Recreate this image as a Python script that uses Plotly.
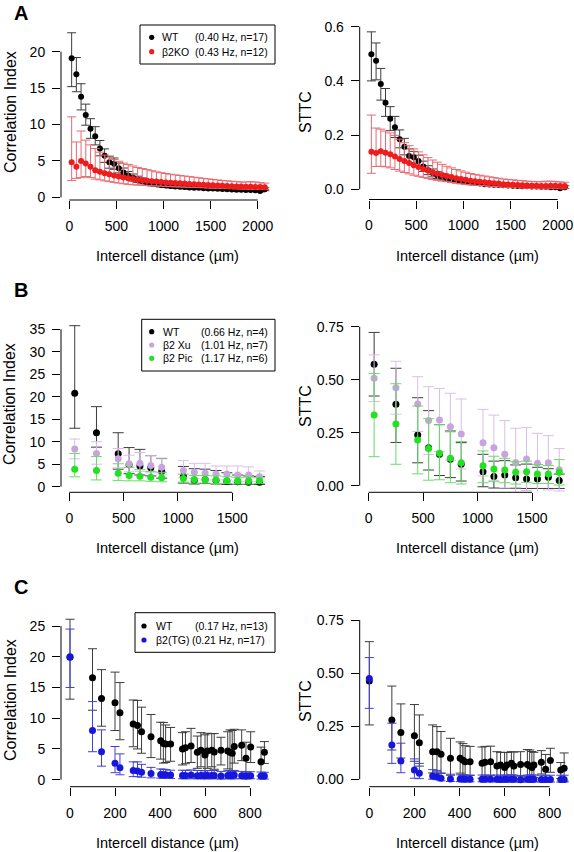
import plotly.graph_objects as go

W, H = 574, 852
FONT = "Liberation Sans, Arial, Helvetica, sans-serif"

# ---------------- DATA ----------------
# Panel A (bins of intercell distance, µm)
A_x = [25, 75, 125, 175, 225, 275, 325, 375, 425, 475, 525, 575, 625, 675, 725, 775, 825, 875, 925, 975,
       1025, 1075, 1125, 1175, 1225, 1275, 1325, 1375, 1425, 1475, 1525, 1575, 1625, 1675, 1725, 1775, 1825, 1875, 1925, 1975,
       2025, 2075]
A_ci_wt = [19.1, 16.9, 13.8, 11.3, 9.4, 8.4, 6.7, 5.7, 4.8, 4.6, 4.0, 3.4, 3.0, 2.7, 2.45, 2.25, 2.05, 1.9, 1.8, 1.7,
           1.62, 1.55, 1.5, 1.45, 1.4, 1.36, 1.32, 1.3, 1.26, 1.22, 1.2, 1.16, 1.13, 1.1, 1.08, 1.05, 1.03, 1.0, 1.0, 0.98,
           0.88, 1.1]
A_ci_wt_up = [3.5, 2.3, 1.8, 1.5, 1.4, 1.3, 1.1, 0.95, 0.85, 0.8, 0.7, 0.62, 0.55, 0.5, 0.45, 0.42, 0.38, 0.35, 0.33, 0.3,
              0.28, 0.27, 0.26, 0.25, 0.24, 0.23, 0.22, 0.22, 0.21, 0.2, 0.2, 0.19, 0.19, 0.18, 0.18, 0.18, 0.17, 0.17, 0.17, 0.17,
              0.16, 0.2]
A_ci_wt_lo = [3.9, 2.4, 1.8, 1.4, 1.3, 1.2, 1.0, 0.9, 0.8, 0.75, 0.65, 0.58, 0.52, 0.47, 0.43, 0.4, 0.36, 0.33, 0.31, 0.29,
              0.27, 0.26, 0.25, 0.24, 0.23, 0.22, 0.21, 0.21, 0.2, 0.19, 0.19, 0.18, 0.18, 0.17, 0.17, 0.17, 0.16, 0.16, 0.16, 0.16,
              0.15, 0.19]
A_ci_ko = [4.8, 4.2, 5.0, 4.65, 4.2, 3.7, 3.5, 3.3, 3.15, 3.0, 2.85, 2.72, 2.6, 2.5, 2.42, 2.35, 2.28, 2.22, 2.16, 2.1,
           2.05, 2.0, 1.96, 1.92, 1.88, 1.84, 1.8, 1.76, 1.72, 1.68, 1.65, 1.62, 1.59, 1.56, 1.53, 1.5, 1.48, 1.46, 1.44, 1.42,
           1.4, 1.38]
A_ci_ko_up = [6.25, 3.4, 4.1, 3.2, 3.0, 3.0, 2.7, 2.5, 2.35, 2.2, 2.1, 1.98, 1.9, 1.8, 1.68, 1.6, 1.52, 1.43, 1.34, 1.28,
              1.22, 1.17, 1.12, 1.08, 1.04, 1.0, 0.96, 0.92, 0.88, 0.84, 0.8, 0.76, 0.73, 0.7, 0.67, 0.65, 0.62, 0.64, 0.71, 0.68,
              0.6, 0.57]
A_ci_ko_lo = [2.5, 1.6, 2.3, 1.8, 1.5, 1.2, 1.1, 1.05, 1.0, 0.95, 0.9, 0.86, 0.82, 0.78, 0.74, 0.7, 0.67, 0.64, 0.61, 0.58,
              0.56, 0.54, 0.52, 0.5, 0.48, 0.46, 0.44, 0.42, 0.41, 0.4, 0.39, 0.38, 0.37, 0.36, 0.35, 0.34, 0.33, 0.34, 0.36, 0.35,
              0.33, 0.32]
A_st_wt = [0.498, 0.474, 0.389, 0.319, 0.26, 0.229, 0.185, 0.157, 0.123, 0.118, 0.104, 0.084, 0.07, 0.06, 0.052, 0.046, 0.041, 0.037, 0.033, 0.03,
           0.027, 0.025, 0.023, 0.021, 0.019, 0.018, 0.017, 0.016, 0.015, 0.014, 0.013, 0.012, 0.011, 0.011, 0.01, 0.01, 0.009, 0.009, 0.008, 0.008,
           0.004, 0.008]
A_st_wt_up = [0.083, 0.066, 0.057, 0.053, 0.045, 0.04, 0.034, 0.031, 0.026, 0.022, 0.022, 0.02, 0.017, 0.015, 0.013, 0.012, 0.011, 0.01, 0.009, 0.008,
              0.0075, 0.007, 0.0065, 0.006, 0.006, 0.0055, 0.005, 0.005, 0.005, 0.0045, 0.0045, 0.004, 0.004, 0.004, 0.004, 0.004, 0.004, 0.004, 0.004, 0.004,
              0.004, 0.005]
A_st_wt_lo = [0.098, 0.07, 0.06, 0.05, 0.043, 0.038, 0.032, 0.03, 0.025, 0.022, 0.02, 0.018, 0.016, 0.014, 0.012, 0.011, 0.01, 0.009, 0.008, 0.0075,
              0.007, 0.0065, 0.006, 0.0055, 0.005, 0.005, 0.005, 0.0045, 0.0045, 0.004, 0.004, 0.004, 0.004, 0.004, 0.004, 0.004, 0.004, 0.004, 0.004, 0.004,
              0.004, 0.005]
A_st_ko = [0.139, 0.134, 0.14, 0.135, 0.129, 0.121, 0.112, 0.104, 0.097, 0.089, 0.082, 0.075, 0.069, 0.063, 0.058, 0.053, 0.049, 0.045, 0.041, 0.038,
           0.035, 0.032, 0.03, 0.028, 0.026, 0.024, 0.022, 0.021, 0.019, 0.018, 0.017, 0.016, 0.015, 0.014, 0.013, 0.013, 0.012, 0.012, 0.013, 0.013,
           0.012, 0.012]
A_st_ko_up = [0.135, 0.092, 0.082, 0.08, 0.079, 0.078, 0.073, 0.068, 0.064, 0.06, 0.056, 0.052, 0.048, 0.045, 0.042, 0.039, 0.036, 0.034, 0.032, 0.03,
              0.028, 0.026, 0.025, 0.024, 0.023, 0.022, 0.021, 0.02, 0.019, 0.018, 0.018, 0.017, 0.017, 0.016, 0.016, 0.015, 0.016, 0.018, 0.017, 0.016,
              0.015, 0.014]
A_st_ko_lo = [0.08, 0.05, 0.055, 0.052, 0.05, 0.048, 0.045, 0.042, 0.04, 0.037, 0.034, 0.031, 0.029, 0.027, 0.025, 0.023, 0.021, 0.02, 0.019, 0.018,
              0.017, 0.016, 0.015, 0.014, 0.013, 0.013, 0.012, 0.012, 0.011, 0.011, 0.01, 0.01, 0.01, 0.01, 0.01, 0.01, 0.01, 0.01, 0.01, 0.01,
              0.01, 0.01]

# Panel B
B_x = [50, 250, 450, 550, 650, 750, 850, 1050, 1150, 1250, 1350, 1450, 1550, 1650, 1750]
B_ci_wt = [20.8, 12.0, 7.3, 4.9, 4.6, 4.2, 3.4, 2.3, 1.4, 1.6, 1.4, 1.2, 1.1, 1.0, 1.0]
B_ci_wt_up = [15.0, 5.8, 4.7, 3.8, 3.7, 2.7, 2.9, 2.2, 2.6, 2.3, 2.2, 1.9, 1.5, 1.4, 1.3]
B_ci_wt_lo = [7.8, 3.2, 3.4, 2.0, 2.0, 1.8, 1.5, 1.5, 0.8, 0.9, 0.8, 0.7, 0.6, 0.5, 0.5]
B_ci_xu = [8.4, 7.4, 6.2, 5.1, 5.2, 4.7, 4.3, 3.6, 3.2, 3.0, 2.8, 2.8, 2.6, 2.6, 2.2]
B_ci_xu_up = [2.2, 2.6, 2.3, 1.9, 2.4, 2.2, 1.9, 2.2, 2.0, 2.2, 1.8, 1.8, 2.0, 1.8, 1.3]
B_ci_xu_lo = [2.2, 2.4, 2.0, 1.8, 1.8, 1.6, 1.5, 1.6, 1.4, 1.5, 1.3, 1.3, 1.4, 1.4, 1.0]
B_ci_pic = [3.9, 3.6, 3.0, 2.5, 2.3, 2.1, 2.0, 1.8, 1.6, 1.6, 1.5, 1.4, 1.3, 1.3, 1.3]
B_ci_pic_up = [3.5, 3.1, 2.1, 1.8, 1.5, 1.3, 1.2, 1.0, 0.9, 0.9, 0.9, 0.8, 0.8, 0.8, 0.7]
B_ci_pic_lo = [1.7, 2.1, 1.6, 1.2, 1.0, 0.9, 0.9, 0.8, 0.8, 0.8, 0.8, 0.7, 0.7, 0.7, 0.6]
B_st_wt = [0.573, 0.384, 0.239, 0.179, 0.148, 0.125, 0.101, 0.066, 0.043, 0.05, 0.038, 0.032, 0.032, 0.04, 0.025]
B_st_wt_up = [0.15, 0.17, 0.176, 0.175, 0.14, 0.133, 0.102, 0.082, 0.073, 0.068, 0.06, 0.07, 0.055, 0.04, 0.03]
B_st_wt_lo = [0.15, 0.18, 0.131, 0.105, 0.1, 0.087, 0.079, 0.071, 0.054, 0.063, 0.05, 0.045, 0.045, 0.053, 0.038]
B_st_xu = [0.507, 0.462, 0.385, 0.307, 0.31, 0.278, 0.244, 0.203, 0.179, 0.148, 0.11, 0.126, 0.106, 0.108, 0.075]
B_st_xu_up = [0.11, 0.125, 0.129, 0.16, 0.149, 0.158, 0.165, 0.157, 0.154, 0.159, 0.161, 0.149, 0.141, 0.128, 0.1]
B_st_xu_lo = [0.11, 0.125, 0.129, 0.16, 0.149, 0.158, 0.165, 0.157, 0.154, 0.159, 0.161, 0.149, 0.141, 0.128, 0.1]
B_st_pic = [0.333, 0.291, 0.216, 0.176, 0.153, 0.129, 0.108, 0.094, 0.079, 0.074, 0.063, 0.066, 0.055, 0.055, 0.063]
B_st_pic_up = [0.196, 0.19, 0.16, 0.14, 0.135, 0.125, 0.1, 0.07, 0.06, 0.055, 0.05, 0.05, 0.045, 0.04, 0.06]
B_st_pic_lo = [0.196, 0.19, 0.16, 0.15, 0.125, 0.115, 0.1, 0.08, 0.06, 0.06, 0.055, 0.05, 0.045, 0.045, 0.06]

# Panel C
C_x = [0, 100, 140, 200, 222, 281, 300, 318, 360, 403, 415, 425, 447, 500, 513, 538, 566, 582, 600, 610,
       630, 641, 671, 701, 711, 721, 730, 763, 782, 803, 849, 864]
C_ci_wt = [19.9, 16.6, 13.2, 12.5, 10.9, 9.06, 8.8, 7.8, 7.0, 6.35, 5.9, 5.8, 5.8, 5.0, 5.2, 5.5, 4.45, 4.8, 4.0, 4.65,
           4.8, 4.5, 4.8, 4.65, 4.45, 4.3, 5.4, 5.6, 3.5, 5.3, 2.9, 4.45]
C_ci_wt_up = [6.2, 4.7, 4.7, 5.0, 4.9, 3.9, 4.1, 4.0, 3.6, 3.0, 3.4, 3.1, 2.7, 2.65, 2.6, 2.85, 2.65, 2.85, 3.3, 2.9,
              2.7, 3.0, 2.1, 3.15, 3.65, 3.7, 2.8, 2.5, 2.6, 2.5, 2.4, 1.75]
C_ci_wt_lo = [6.8, 5.3, 4.5, 4.5, 4.4, 3.7, 3.8, 3.5, 3.4, 3.0, 3.2, 3.0, 2.8, 2.6, 2.6, 2.7, 2.6, 2.7, 2.9, 2.8,
              2.7, 2.8, 2.4, 2.9, 3.0, 3.0, 2.7, 2.5, 2.4, 2.5, 2.3, 1.8]
C_ci_tg = [20.0, 8.0, 4.55, 2.66, 1.95, 1.5, 1.4, 1.2, 1.0, 0.85, 0.8, 0.8, 0.75, 0.7, 0.7, 0.75, 0.65, 0.7, 0.65, 0.7,
           0.7, 0.7, 0.6, 0.7, 0.7, 0.7, 0.75, 0.65, 0.6, 0.65, 0.6, 0.6]
C_ci_tg_up = [4.5, 4.7, 3.55, 2.74, 2.25, 1.4, 1.5, 1.3, 1.0, 0.9, 0.9, 0.85, 0.8, 0.85, 0.8, 0.85, 0.85, 0.8, 0.8, 0.8,
              0.8, 0.8, 0.75, 0.75, 0.8, 0.7, 0.75, 0.7, 0.7, 0.65, 0.65, 0.6]
C_ci_tg_lo = [5.0, 3.45, 2.35, 1.52, 1.15, 1.0, 0.9, 0.8, 0.7, 0.6, 0.6, 0.6, 0.55, 0.55, 0.55, 0.6, 0.5, 0.55, 0.5, 0.55,
              0.55, 0.55, 0.5, 0.55, 0.55, 0.55, 0.6, 0.5, 0.5, 0.5, 0.5, 0.5]
C_st_wt = [0.463, 0.279, 0.22, 0.205, 0.172, 0.13, 0.13, 0.118, 0.099, 0.099, 0.09, 0.083, 0.083, 0.075, 0.08, 0.083, 0.063, 0.067, 0.056, 0.067,
           0.075, 0.063, 0.07, 0.07, 0.063, 0.056, 0.067, 0.08, 0.047, 0.088, 0.044, 0.052]
C_st_wt_up = [0.185, 0.16, 0.135, 0.147, 0.131, 0.126, 0.118, 0.107, 0.094, 0.077, 0.078, 0.075, 0.072, 0.077, 0.075, 0.073, 0.067, 0.06, 0.07, 0.06,
              0.055, 0.065, 0.06, 0.07, 0.075, 0.075, 0.06, 0.055, 0.07, 0.058, 0.035, 0.072]
C_st_wt_lo = [0.207, 0.141, 0.12, 0.12, 0.11, 0.1, 0.095, 0.09, 0.08, 0.07, 0.07, 0.068, 0.065, 0.07, 0.068, 0.066, 0.06, 0.058, 0.06, 0.058,
              0.055, 0.06, 0.058, 0.065, 0.065, 0.065, 0.058, 0.055, 0.06, 0.055, 0.04, 0.06]
C_st_tg = [0.475, 0.161, 0.086, 0.044, 0.028, 0.0155, 0.012, 0.005, 0.002, 0.001, 0.001, 0.0, 0.0, 0.0, 0.0, 0.0, 0.0, -0.001, 0.0, 0.0,
           0.0, 0.0, -0.002, 0.0, 0.0, 0.0, 0.0, -0.001, -0.001, -0.001, -0.001, -0.001]
C_st_tg_up = [0.098, 0.103, 0.084, 0.052, 0.047, 0.03, 0.03, 0.025, 0.022, 0.02, 0.02, 0.02, 0.02, 0.02, 0.02, 0.02, 0.02, 0.02, 0.02, 0.02,
              0.02, 0.02, 0.02, 0.02, 0.02, 0.02, 0.02, 0.02, 0.02, 0.02, 0.02, 0.02]
C_st_tg_lo = [0.141, 0.086, 0.055, 0.039, 0.025, 0.015, 0.014, 0.012, 0.012, 0.012, 0.012, 0.012, 0.012, 0.012, 0.012, 0.012, 0.012, 0.012, 0.012, 0.012,
              0.012, 0.012, 0.012, 0.012, 0.012, 0.012, 0.012, 0.012, 0.012, 0.012, 0.012, 0.012]

# tick labels
A_xticks = [0, 500, 1000, 1500, 2000]
B_xticks = [0, 500, 1000, 1500]
C_xticks = [0, 200, 400, 600, 800]
A_ci_ticks = [0, 5, 10, 15, 20]
A_st_ticks = [0.0, 0.2, 0.4, 0.6]
B_ci_ticks = [0, 5, 10, 15, 20, 25, 30, 35]
B_st_ticks = [0.0, 0.25, 0.5, 0.75]
C_ci_ticks = [0, 5, 10, 15, 20, 25]
C_st_ticks = [0.0, 0.25, 0.5, 0.75]

# legend texts
A_leg = [("WT", "(0.40 Hz, n=17)"), ("β2KO", "(0.43 Hz, n=12)")]
B_leg = [("WT", "(0.66 Hz, n=4)"), ("β2 Xu", "(1.01 Hz, n=7)"), ("β2 Pic", "(1.17 Hz, n=6)")]
C_leg = [("WT", "(0.17 Hz, n=13)"), ("β2(TG)", "(0.21 Hz, n=17)")]

# ---------------- STYLE ----------------
COL = {
    "wt": ("#000000", "#3c3c3c"),
    "ko": ("#ee1c1c", "#e86a72"),
    "xu": ("#c9a3dd", "#dcbde9"),
    "pic": ("#22e022", "#66dd66"),
    "tg": ("#1616dd", "#4040d8"),
}


def pxx(x):
    return x / W


def pxy(y):
    return 1 - y / H


# panel geometry in pixels: L, R, T, B (axis lines), x calibration, y calibration
panels = [
    dict(L=61, R=275, T=18, B=200, xc=(0, 69.3, 2000, 257.7), yc=(0, 197.3, 20, 51.7),
         xt=A_xticks, yt=A_ci_ticks, yfmt="{:g}"),
    dict(L=359.7, R=572, T=18, B=199.5, xc=(0, 369, 2000, 557.7), yc=(0, 189.3, 0.6, 26.7),
         xt=A_xticks, yt=A_st_ticks, yfmt="{:.1f}"),
    dict(L=61, R=275, T=300, B=492.3, xc=(0, 69.3, 1500, 232.3), yc=(0, 486.7, 35, 329.3),
         xt=B_xticks, yt=B_ci_ticks, yfmt="{:g}"),
    dict(L=359.7, R=572, T=300, B=492.3, xc=(0, 368.7, 1500, 532), yc=(0, 485.7, 0.75, 326.7),
         xt=B_xticks, yt=B_st_ticks, yfmt="{:.2f}"),
    dict(L=61, R=275, T=598, B=786.7, xc=(0, 70, 800, 250), yc=(0, 779.7, 25, 626),
         xt=C_xticks, yt=C_ci_ticks, yfmt="{:g}"),
    dict(L=359.7, R=572, T=598, B=786.7, xc=(0, 369.3, 800, 549.7), yc=(0, 779.3, 0.75, 620),
         xt=C_xticks, yt=C_st_ticks, yfmt="{:.2f}"),
]

fig = go.Figure()
layout = dict(width=W, height=H, margin=dict(l=0, r=0, t=0, b=0, pad=0, autoexpand=False),
              paper_bgcolor="white", plot_bgcolor="white", showlegend=False,
              font=dict(family=FONT, color="black"))
shapes = []
annotations = []

for i, p in enumerate(panels, start=1):
    sfx = "" if i == 1 else str(i)
    x0v, x0p, x1v, x1p = p["xc"]
    sx = (x1p - x0p) / (x1v - x0v)
    xr = [x0v + (p["L"] - x0p) / sx, x0v + (p["R"] - x0p) / sx]
    y0v, y0p, y1v, y1p = p["yc"]
    sy = (y0p - y1p) / (y1v - y0v)
    yr = [y0v + (y0p - p["B"]) / sy, y0v + (y0p - p["T"]) / sy]
    layout["xaxis" + sfx] = dict(domain=[pxx(p["L"]), pxx(p["R"])], range=xr, anchor="y" + sfx,
                                 showgrid=False, zeroline=False, showline=False,
                                 ticks="outside", ticklen=8, tickwidth=1, tickcolor="black",
                                 tickvals=p["xt"], ticktext=[str(v) for v in p["xt"]],
                                 tickfont=dict(size=14, family=FONT, color="black"),
                                 ticklabelstandoff=5, fixedrange=True)
    layout["yaxis" + sfx] = dict(domain=[pxy(p["B"]), pxy(p["T"])], range=yr, anchor="x" + sfx,
                                 showgrid=False, zeroline=False, showline=False,
                                 ticks="outside", ticklen=8, tickwidth=1, tickcolor="black",
                                 tickvals=p["yt"], ticktext=[p["yfmt"].format(v) for v in p["yt"]],
                                 tickfont=dict(size=14, family=FONT, color="black"),
                                 ticklabelstandoff=4, fixedrange=True)
    xd = ("x" + sfx) if sfx else "x"
    yd = ("y" + sfx) if sfx else "y"
    # R-style detached axis lines spanning first..last tick
    shapes.append(dict(type="line", xref=xd + " domain", yref=yd, x0=0, x1=0,
                       y0=p["yt"][0], y1=p["yt"][-1], line=dict(color="black", width=1)))
    shapes.append(dict(type="line", xref=xd, yref=yd + " domain", x0=p["xt"][0], x1=p["xt"][-1],
                       y0=0, y1=0, line=dict(color="black", width=1)))


def add(x, y, up, lo, key, ax, size, cap):
    mc, ec = COL[key]
    fig.add_trace(go.Scatter(
        x=x, y=y, mode="markers", xaxis="x" + ax, yaxis="y" + ax,
        marker=dict(color=mc, size=size, line=dict(width=0)),
        error_y=dict(type="data", symmetric=False, array=up, arrayminus=lo,
                     color=ec, thickness=1, width=cap),
        cliponaxis=False, hoverinfo="skip"))


add(A_x, A_ci_wt, A_ci_wt_up, A_ci_wt_lo, "wt", "", 6, 4.5)
add(A_x, A_ci_ko, A_ci_ko_up, A_ci_ko_lo, "ko", "", 6, 4.5)
add(A_x, A_st_wt, A_st_wt_up, A_st_wt_lo, "wt", "2", 6, 4.5)
add(A_x, A_st_ko, A_st_ko_up, A_st_ko_lo, "ko", "2", 6, 4.5)
add(B_x, B_ci_wt, B_ci_wt_up, B_ci_wt_lo, "wt", "3", 7, 5.5)
add(B_x, B_ci_xu, B_ci_xu_up, B_ci_xu_lo, "xu", "3", 7, 5.5)
add(B_x, B_ci_pic, B_ci_pic_up, B_ci_pic_lo, "pic", "3", 7, 5.5)
add(B_x, B_st_wt, B_st_wt_up, B_st_wt_lo, "wt", "4", 7, 5.5)
add(B_x, B_st_xu, B_st_xu_up, B_st_xu_lo, "xu", "4", 7, 5.5)
add(B_x, B_st_pic, B_st_pic_up, B_st_pic_lo, "pic", "4", 7, 5.5)
add(C_x, C_ci_wt, C_ci_wt_up, C_ci_wt_lo, "wt", "5", 7, 4.5)
add(C_x, C_ci_tg, C_ci_tg_up, C_ci_tg_lo, "tg", "5", 7, 4.5)
add(C_x, C_st_wt, C_st_wt_up, C_st_wt_lo, "wt", "6", 7, 4.5)
add(C_x, C_st_tg, C_st_tg_up, C_st_tg_lo, "tg", "6", 7, 4.5)


def text(x, y, s, size=14, xanchor="center", angle=0, bold=False, color="black"):
    annotations.append(dict(x=pxx(x), y=pxy(y), xref="paper", yref="paper", text=("<b>%s</b>" % s) if bold else s,
                            showarrow=False, xanchor=xanchor, yanchor="middle", textangle=angle,
                            font=dict(size=size, family=FONT, color=color)))


# panel letters
text(21, 13, "A", 20, bold=True)
text(21, 290, "B", 20, bold=True)
text(21, 587, "C", 20, bold=True)

# axis titles
for cy in (112, 404, 700):
    text(10, cy, "Correlation Index", 16, angle=-90)
text(305, 112, "STTC", 16, angle=-90)
text(305, 406, "STTC", 16, angle=-90)
text(305, 701, "STTC", 16, angle=-90)
for ty in (256, 548.3, 842.5):
    text(167.5, ty, "Intercell distance (µm)", 14.5)
    text(467, ty, "Intercell distance (µm)", 14.5)


# legends (drawn manually to keep R-like column alignment)
def legend(box, row_ys, rows, keys, dot_x, name_x, stat_xs):
    x0, y0, x1, y1 = box
    shapes.append(dict(type="rect", xref="paper", yref="paper", x0=pxx(x0), x1=pxx(x1), y0=pxy(y1), y1=pxy(y0),
                       line=dict(color="black", width=1), fillcolor="white", layer="above"))
    for (name, stat), key, ry, sxp in zip(rows, keys, row_ys, stat_xs):
        shapes.append(dict(type="circle", xref="paper", yref="paper", xsizemode="pixel", ysizemode="pixel",
                           xanchor=pxx(dot_x), yanchor=pxy(ry), x0=-2.6, x1=2.6, y0=-2.6, y1=2.6,
                           fillcolor=COL[key][0], line=dict(width=0), layer="above"))
        text(name_x, ry, name, 10.5, xanchor="left")
        text(sxp, ry, stat, 10.5, xanchor="left")


legend((140, 25, 275, 64), [37.3, 51.7], A_leg, ["wt", "ko"], 151.7, 160, [192.7, 192.7])
legend((141.7, 319.3, 275, 371), [331.7, 345, 358.3], B_leg, ["wt", "xu", "pic"], 151.7, 161, [199.3, 199.3, 199.3])
legend((135, 612.7, 275, 652.3), [626, 640], C_leg, ["wt", "tg"], 144, 154.3, [193.3, 190])

layout["shapes"] = shapes
layout["annotations"] = annotations
fig.update_layout(**layout)
fig.write_html("out.html", config={"displayModeBar": False, "staticPlot": True},
               post_script="document.body.style.margin='0px';document.body.style.overflow='hidden';")
